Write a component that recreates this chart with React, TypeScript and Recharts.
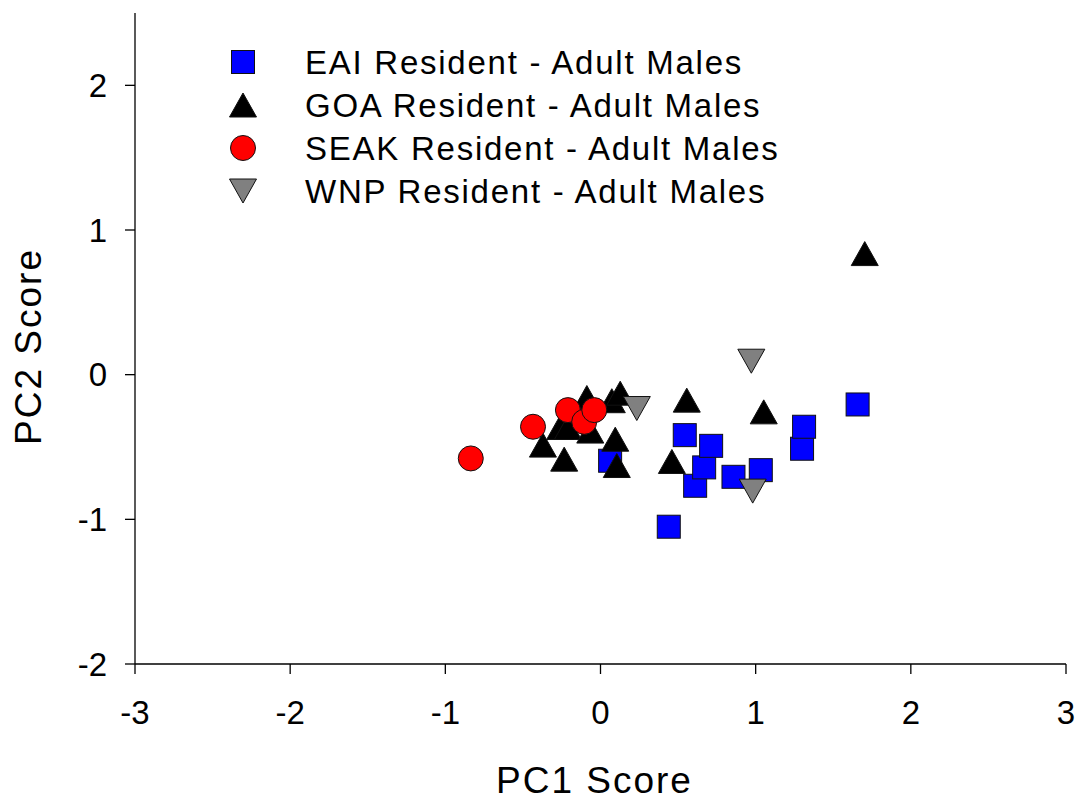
import React from "react";
import {
  ScatterChart,
  Scatter,
  XAxis,
  YAxis,
  Legend,
  Label,
} from "recharts";

// PC scores per population (adult males)
const eaiPoints = [
  { x: 0.062, y: -0.595 },
  { x: 0.44, y: -1.051 },
  { x: 0.543, y: -0.418 },
  { x: 0.61, y: -0.768 },
  { x: 0.668, y: -0.641 },
  { x: 0.713, y: -0.492 },
  { x: 0.857, y: -0.706 },
  { x: 1.033, y: -0.66 },
  { x: 1.299, y: -0.512 },
  { x: 1.312, y: -0.36 },
  { x: 1.657, y: -0.206 },
];

const goaPoints = [
  { x: -0.088, y: -0.158 },
  { x: 0.073, y: -0.18 },
  { x: 0.127, y: -0.128 },
  { x: 0.556, y: -0.176 },
  { x: -0.26, y: -0.365 },
  { x: -0.21, y: -0.365 },
  { x: -0.066, y: -0.39 },
  { x: -0.371, y: -0.487 },
  { x: -0.234, y: -0.584 },
  { x: 0.095, y: -0.446 },
  { x: 0.105, y: -0.628 },
  { x: 0.46, y: -0.6 },
  { x: 1.052, y: -0.257 },
  { x: 1.703, y: 0.837 },
];

const seakPoints = [
  { x: -0.836, y: -0.579 },
  { x: -0.435, y: -0.36 },
  { x: -0.21, y: -0.245 },
  { x: -0.105, y: -0.326 },
  { x: -0.04, y: -0.245 },
];

const wnpPoints = [
  { x: 0.234, y: -0.234 },
  { x: 0.972, y: 0.093 },
  { x: 0.981, y: -0.805 },
];

const xTicks = [-3, -2, -1, 0, 1, 2, 3];
const yTicks = [-2, -1, 0, 1, 2];

const FONT = '"Liberation Sans", Arial, Helvetica, sans-serif';

type MarkerKind = "square" | "triangle" | "circle" | "triangleDown";

const SERIES: {
  name: string;
  data: { x: number; y: number }[];
  kind: MarkerKind;
  fill: string;
}[] = [
  { name: "EAI Resident - Adult Males", data: eaiPoints, kind: "square", fill: "#0000ff" },
  { name: "GOA Resident - Adult Males", data: goaPoints, kind: "triangle", fill: "#000000" },
  { name: "SEAK Resident - Adult Males", data: seakPoints, kind: "circle", fill: "#ff0000" },
  { name: "WNP Resident - Adult Males", data: wnpPoints, kind: "triangleDown", fill: "#808080" },
];

function Marker({ kind, cx, cy, fill }: { kind: MarkerKind; cx: number; cy: number; fill: string }) {
  const stroke = "#111";
  if (kind === "square") {
    const s = 23;
    return <rect x={cx - s / 2} y={cy - s / 2} width={s} height={s} fill={fill} stroke={stroke} strokeWidth={1} />;
  }
  if (kind === "circle") {
    return <circle cx={cx} cy={cy} r={12.5} fill={fill} stroke={stroke} strokeWidth={1} />;
  }
  const w = 27;
  const h = 24;
  const pts =
    kind === "triangle"
      ? `${cx},${cy - h / 2} ${cx + w / 2},${cy + h / 2} ${cx - w / 2},${cy + h / 2}`
      : `${cx},${cy + h / 2} ${cx + w / 2},${cy - h / 2} ${cx - w / 2},${cy - h / 2}`;
  return <polygon points={pts} fill={fill} stroke={stroke} strokeWidth={1} strokeLinejoin="miter" />;
}

function LegendBox() {
  return (
    <svg width={620} height={180} style={{ overflow: "visible" }}>
      {SERIES.map((s, i) => {
        const cy = 27 + i * 43;
        return (
          <g key={s.name}>
            <Marker kind={s.kind} cx={43} cy={cy} fill={s.fill} />
            <text
              x={105}
              y={cy + 12}
              fontFamily={FONT}
              fontSize={33}
              letterSpacing={1.75}
              fill="#000"
            >
              {s.name}
            </text>
          </g>
        );
      })}
    </svg>
  );
}

function XTitle({ viewBox }: any) {
  const cx = viewBox.x + viewBox.width / 2 - 6;
  return (
    <text x={cx} y={793} textAnchor="middle" fontFamily={FONT} fontSize={37} letterSpacing={2} fill="#000">
      PC1 Score
    </text>
  );
}

function YTitle({ viewBox }: any) {
  const cx = 41;
  const cy = viewBox.y + viewBox.height / 2 + 8;
  return (
    <text
      x={cx}
      y={cy}
      transform={`rotate(-90 ${cx} ${cy})`}
      textAnchor="middle"
      fontFamily={FONT}
      fontSize={37}
      letterSpacing={2}
      fill="#000"
    >
      PC2 Score
    </text>
  );
}

const tickStyle = { fill: "#000", fontSize: 33, fontFamily: FONT };

export default function App() {
  return (
    <div style={{ position: "absolute", left: 0, top: 0, width: 1081, height: 800, background: "#fff" }}>
      <ScatterChart
        width={1081}
        height={800}
        margin={{ top: 13, right: 15, bottom: 56, left: 60 }}
      >
        <XAxis
          type="number"
          dataKey="x"
          domain={[-3, 3]}
          ticks={xTicks}
          height={80}
          stroke="#000"
          strokeWidth={1.3}
          tickSize={10}
          tickMargin={27}
          tick={tickStyle}
          allowDataOverflow
        >
          <Label content={<XTitle />} />
        </XAxis>
        <YAxis
          type="number"
          dataKey="y"
          domain={[-2, 2.5]}
          ticks={yTicks}
          width={75}
          stroke="#000"
          strokeWidth={1.3}
          tickSize={10}
          tickMargin={18}
          tick={tickStyle}
          allowDataOverflow
        >
          <Label content={<YTitle />} />
        </YAxis>
        <Legend
          layout="vertical"
          align="center"
          verticalAlign="middle"
          content={<LegendBox />}
          wrapperStyle={{ left: 200, top: 35, width: 620, height: 180 }}
        />
        {SERIES.map((s) => (
          <Scatter
            key={s.name}
            name={s.name}
            data={s.data}
            fill={s.fill}
            isAnimationActive={false}
            shape={(p: any) => <Marker kind={s.kind} cx={p.cx} cy={p.cy} fill={s.fill} />}
          />
        ))}
      </ScatterChart>
    </div>
  );
}
